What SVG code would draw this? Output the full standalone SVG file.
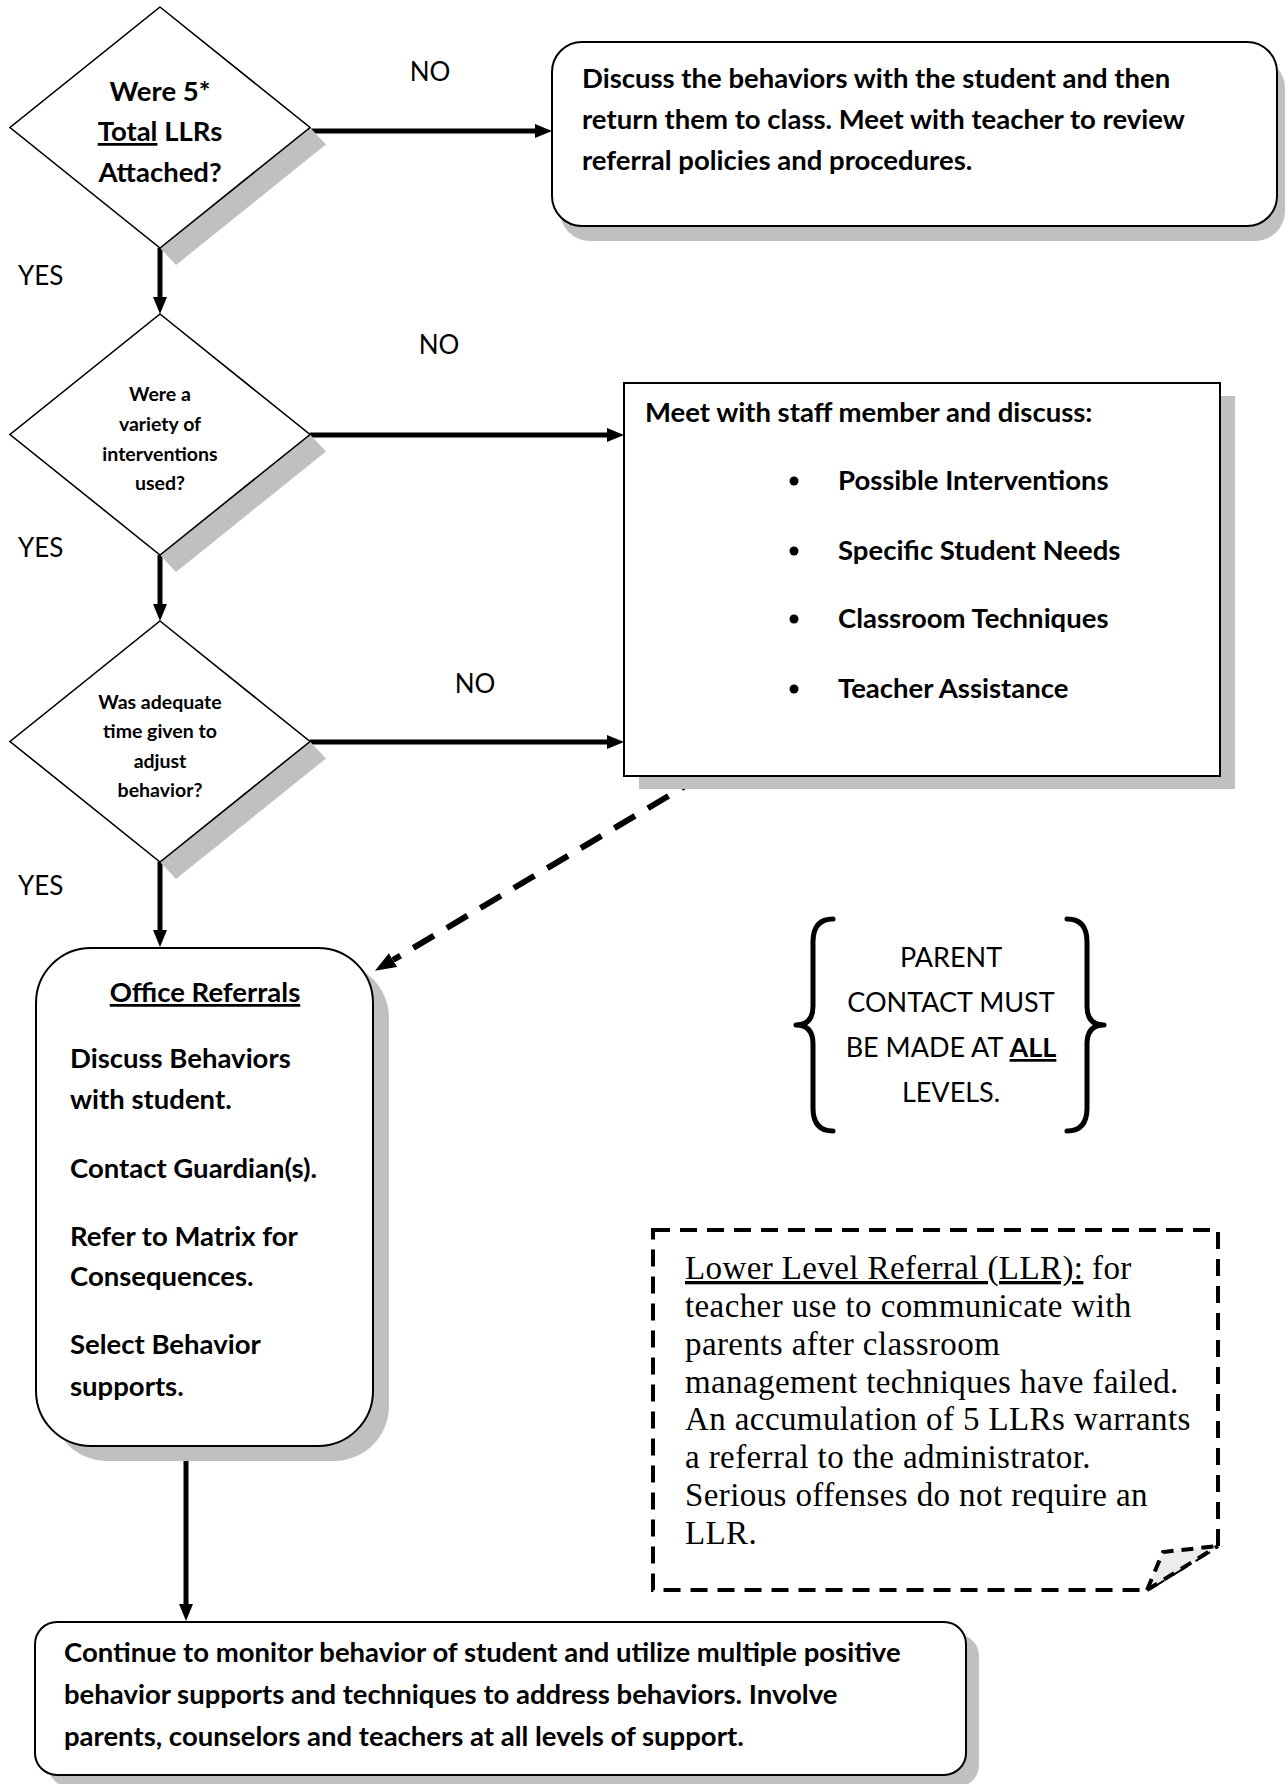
<svg xmlns="http://www.w3.org/2000/svg" width="1286" height="1784" viewBox="0 0 1286 1784">
<defs>
<style>
.bg{fill:#ffffff}
.shd{fill:#c0c0c0;stroke:none}
.dia{fill:#ffffff;stroke:#000;stroke-width:1.6}
.box{fill:#ffffff;stroke:#000;stroke-width:2}
.b{font-family:Lato,"Liberation Sans",sans-serif;font-weight:700;font-size:27.5px;fill:#000}
.d{font-family:Lato,"Liberation Sans",sans-serif;font-weight:700;font-size:19.5px;fill:#000;text-anchor:middle}
.l{font-family:Lato,"Liberation Sans",sans-serif;font-weight:400;font-size:26px;fill:#000}
.p{font-family:Lato,"Liberation Sans",sans-serif;font-weight:400;font-size:27px;fill:#000;text-anchor:middle}
.s{font-family:"Liberation Serif","Times New Roman",serif;font-size:33px;letter-spacing:0.4px;fill:#000}
.u{text-decoration:underline}
.c{fill:none;stroke:#000;stroke-width:5}
.cd{fill:none;stroke:#000;stroke-width:6;stroke-dasharray:24 15}
.brace{fill:none;stroke:#000;stroke-width:5;stroke-linecap:round;stroke-linejoin:round}
.dash{fill:none;stroke:#000;stroke-width:4;stroke-dasharray:17 10}
</style>
<marker id="ah" markerUnits="userSpaceOnUse" markerWidth="18" markerHeight="16" refX="0" refY="8" orient="auto">
<path d="M0,1 L17,8 L0,15 Z" fill="#000"/>
</marker>
<marker id="ahd" markerUnits="userSpaceOnUse" markerWidth="22" markerHeight="18" refX="0" refY="9" orient="auto">
<path d="M0,1 L21,9 L0,17 Z" fill="#000"/>
</marker>
</defs>
<rect class="bg" x="0" y="0" width="1286" height="1784"/>

<g id="connectors">
<line class="c" x1="310" y1="131" x2="535" y2="131" marker-end="url(#ah)"/>
<line class="c" x1="160" y1="248" x2="160" y2="297" marker-end="url(#ah)"/>
<line class="c" x1="310" y1="435" x2="607" y2="435" marker-end="url(#ah)"/>
<line class="c" x1="160" y1="555" x2="160" y2="604" marker-end="url(#ah)"/>
<line class="c" x1="310" y1="742" x2="607" y2="742" marker-end="url(#ah)"/>
<line class="c" x1="160" y1="862" x2="160" y2="930" marker-end="url(#ah)"/>
<line class="c" x1="186" y1="1447" x2="186" y2="1604" marker-end="url(#ah)"/>
<line class="cd" x1="702" y1="776" x2="393" y2="960" marker-end="url(#ahd)"/>
<text class="l" x="430" y="81" text-anchor="middle">NO</text>
<text class="l" x="18" y="285">YES</text>
<text class="l" x="439" y="354" text-anchor="middle">NO</text>
<text class="l" x="18" y="557">YES</text>
<text class="l" x="475" y="693" text-anchor="middle">NO</text>
<text class="l" x="18" y="895">YES</text>
</g>

<g id="d1">
<polygon class="shd" points="310,127.5 326,144.5 176,265 160,248"/>
<polygon class="dia" points="160,7 310,127.5 160,248 10,127.5"/>
<text class="b" x="160" y="101" text-anchor="middle">Were 5*</text>
<text class="b" x="160" y="141" text-anchor="middle"><tspan class="u">Total</tspan> LLRs</text>
<text class="b" x="160" y="182" text-anchor="middle">Attached?</text>
</g>

<g id="box1">
<rect class="shd" x="560" y="58" width="725" height="183" rx="30"/>
<rect class="box" x="552" y="42" width="725" height="184" rx="30"/>
<text class="b" x="582" y="88">Discuss the behaviors with the student and then</text>
<text class="b" x="582" y="129">return them to class. Meet with teacher to review</text>
<text class="b" x="582" y="170">referral policies and procedures.</text>
</g>

<g id="d2">
<polygon class="shd" points="310,434.5 326,451.5 176,572 160,555"/>
<polygon class="dia" points="160,314 310,434.5 160,555 10,434.5"/>
<text class="d" x="160" y="401">Were a</text>
<text class="d" x="160" y="431">variety of</text>
<text class="d" x="160" y="461">interventions</text>
<text class="d" x="160" y="490">used?</text>
</g>

<g id="box2">
<rect class="shd" x="639" y="396" width="596" height="393"/>
<rect class="box" x="624" y="383" width="596" height="393"/>
<text class="b" x="645" y="422">Meet with staff member and discuss:</text>
<circle cx="794" cy="481" r="4.5"/>
<text class="b" x="838" y="490">Possible Interventions</text>
<circle cx="794" cy="551" r="4.5"/>
<text class="b" x="838" y="560">Specific Student Needs</text>
<circle cx="794" cy="619" r="4.5"/>
<text class="b" x="838" y="628">Classroom Techniques</text>
<circle cx="794" cy="689" r="4.5"/>
<text class="b" x="838" y="698">Teacher Assistance</text>
</g>

<g id="d3">
<polygon class="shd" points="310,741.5 326,758.5 176,879 160,862"/>
<polygon class="dia" points="160,621 310,741.5 160,862 10,741.5"/>
<text class="d" x="160" y="709">Was adequate</text>
<text class="d" x="160" y="738">time given to</text>
<text class="d" x="160" y="768">adjust</text>
<text class="d" x="160" y="797">behavior?</text>
</g>

<g id="office">
<rect class="shd" x="52" y="963" width="337" height="498" rx="55"/>
<rect class="box" x="36" y="948" width="337" height="498" rx="55"/>
<text class="b u" x="205" y="1002" text-anchor="middle">Office Referrals</text>
<text class="b" x="70" y="1068">Discuss Behaviors</text>
<text class="b" x="70" y="1109">with student.</text>
<text class="b" x="70" y="1178">Contact Guardian(s).</text>
<text class="b" x="70" y="1246">Refer to Matrix for</text>
<text class="b" x="70" y="1286">Consequences.</text>
<text class="b" x="70" y="1354">Select Behavior</text>
<text class="b" x="70" y="1396">supports.</text>
</g>

<g id="parent">
<path class="brace" d="M833,919 Q813,919 813,942 L813,1006 Q813,1025 796,1025 Q813,1025 813,1044 L813,1108 Q813,1131 833,1131"/>
<path class="brace" d="M1067,919 Q1087,919 1087,942 L1087,1006 Q1087,1025 1104,1025 Q1087,1025 1087,1044 L1087,1108 Q1087,1131 1067,1131"/>
<text class="p" x="951" y="967">PARENT</text>
<text class="p" x="951" y="1012">CONTACT MUST</text>
<text class="p" x="951" y="1057">BE MADE AT <tspan class="u" font-weight="700">ALL</tspan></text>
<text class="p" x="951" y="1102">LEVELS.</text>
</g>

<g id="llr">
<path class="dash" d="M653,1230 H1218 V1546 L1147,1590 H653 Z" fill="#ffffff"/>
<path d="M1147,1590 L1163,1552 Q1190,1549 1218,1546 Z" fill="#ececec" stroke="none"/>
<path class="dash" d="M1147,1590 L1163,1552 Q1190,1549 1218,1546" style="stroke-dasharray:12 8"/>
<path class="dash" d="M1147,1590 L1218,1546" style="stroke-dasharray:12 8"/>
<text class="s" x="685" y="1279"><tspan class="u">Lower Level Referral (LLR):</tspan> for</text>
<text class="s" x="685" y="1317">teacher use to communicate with</text>
<text class="s" x="685" y="1355">parents after classroom</text>
<text class="s" x="685" y="1393">management techniques have failed.</text>
<text class="s" x="685" y="1430">An accumulation of 5 LLRs warrants</text>
<text class="s" x="685" y="1468">a referral to the administrator.</text>
<text class="s" x="685" y="1506">Serious offenses do not require an</text>
<text class="s" x="685" y="1544">LLR.</text>
</g>

<g id="bottom">
<rect class="shd" x="48" y="1634" width="931" height="153" rx="22"/>
<rect class="box" x="35" y="1622" width="931" height="153" rx="22"/>
<text class="b" x="64" y="1662">Continue to monitor behavior of student and utilize multiple positive</text>
<text class="b" x="64" y="1704">behavior supports and techniques to address behaviors. Involve</text>
<text class="b" x="64" y="1746">parents, counselors and teachers at all levels of support.</text>
</g>
</svg>
